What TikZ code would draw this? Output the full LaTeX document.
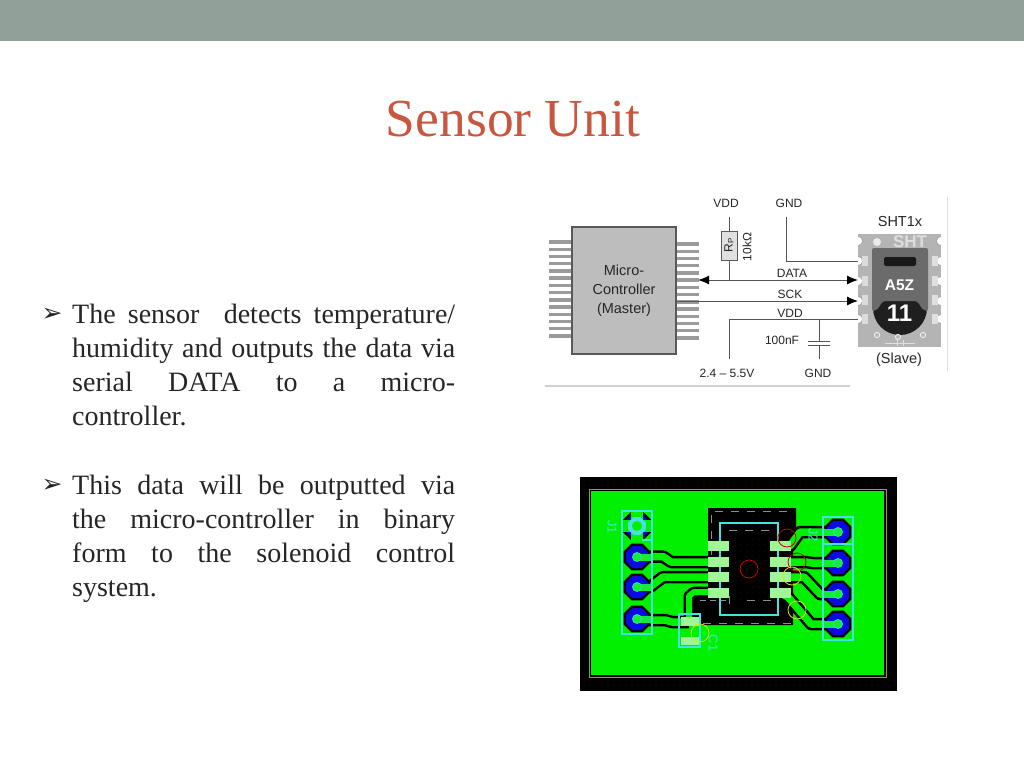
\documentclass[tikz,border=0pt]{standalone}
\usepackage{fontspec}
\setmainfont{Liberation Serif}
\newfontfamily\schem{Liberation Sans}
\newfontfamily\bulletfont{DejaVu Sans}
\usetikzlibrary{arrows.meta,shapes.geometric}
\definecolor{barc}{RGB}{145,160,152}
\definecolor{titlec}{RGB}{200,87,63}
\definecolor{textc}{RGB}{38,38,38}
\definecolor{mcuc}{RGB}{189,189,189}
\definecolor{pinc}{RGB}{155,155,155}
\definecolor{wirec}{RGB}{85,85,85}
\definecolor{pcbg}{RGB}{0,240,0}
\definecolor{padg}{RGB}{160,245,150}
\definecolor{cyn}{RGB}{70,225,225}
\definecolor{blu}{RGB}{10,10,225}
\definecolor{olv}{RGB}{170,150,40}
\newcommand{\jline}[1]{\makebox[383pt][s]{#1}\\}
\tikzset{
  x=1pt,y=-1pt,
  para/.style={anchor=north west,inner sep=0pt,text width=383pt,align=justify,font=\fontsize{28}{34}\selectfont,text=textc},
  bul/.style={anchor=center,inner sep=0pt,font=\bulletfont\bfseries\fontsize{25}{25}\selectfont,text=textc},
  lab/.style={inner sep=0pt,font=\schem\fontsize{12}{14}\selectfont,text=black!85},
  wire/.style={draw=wirec,line width=1pt},
  arrowwire/.style={wire,-{Latex[length=11pt,width=9pt,black]}},
  pin/.style={draw=pinc,line width=3.4pt},
  trackb/.style={draw=black,line width=12.5pt,line join=round},
  trackg/.style={draw=pcbg,line width=7.5pt,line join=round},
  tracknb/.style={draw=black,line width=11pt,line join=round},
  trackng/.style={draw=pcbg,line width=6pt,line join=round},
  smd/.style={fill=padg,draw=none},
  silk/.style={draw=cyn,line width=1.1pt},
  pcbtext/.style={inner sep=0pt,font=\schem\fontsize{13}{13}\selectfont,text=cyn},
  arcr/.style={draw=red!75!black,line width=.8pt},
  arcy/.style={draw=yellow!85!green,line width=.8pt},
  gdash/.style={draw=black!45,line width=1pt,dash pattern=on 8pt off 8pt},
  tpad/.style={regular polygon,regular polygon sides=8,minimum size=29pt,inner sep=0pt,fill=black},
  bpad/.style={regular polygon,regular polygon sides=8,minimum size=24pt,inner sep=0pt,fill=blu},
  hpad/.style={circle,minimum size=9pt,inner sep=0pt,fill=pcbg!75!cyn,draw=cyn!70!pcbg,line width=.8pt},
}
\begin{document}
\begin{tikzpicture}
\useasboundingbox (0,0) rectangle (1024,768);
\fill[white] (0,0) rectangle (1024,768);
\fill[barc] (0,0) rectangle (1024,41);
\node[inner sep=0pt,text=titlec,font=\fontsize{53.5}{60}\selectfont] (title) at (513,119) {Sensor Unit};

% bullets
\node[bul] (b1) at (52,315) {➢};
\node[para] (p1) at (72,304) {\jline{The sensor\ \ detects temperature/}\jline{humidity and outputs the data via}\jline{serial DATA to a micro-}controller.};
\node[bul] (b2) at (52,486) {➢};
\node[para] (p2) at (72,475) {\jline{This data will be outputted via}\jline{the micro-controller in binary}\jline{form to the solenoid control}system.};

% faint photo edges
\draw[black!12,line width=1pt] (947,197) -- (947,371);
\draw[black!18,line width=1.2pt] (545,386) -- (850,386);

% microcontroller
\foreach \i in {0,...,13} {
  \draw[pin] (549,{242+7.23*\i}) -- (573,{242+7.23*\i});
  \draw[pin] (675,{244+7.23*\i}) -- (699,{244+7.23*\i});
}
\node[draw=black!65,fill=mcuc,line width=1.1pt,minimum width=104pt,minimum height=127pt,inner sep=0pt,align=center,font=\schem\fontsize{14.5}{19}\selectfont,text=black!85] (mcu) at (624,290.5) {Micro-\\Controller\\(Master)};

% sensor
\node[fill=mcuc!95!black,minimum width=83pt,minimum height=113pt,inner sep=0pt] (sht) at (899.5,290.5) {};
\foreach \y in {241,261,281,301,319} {
  \fill[white] (858,\y) circle (4.5);
  \fill[white] (941,\y) circle (4.5);
  \draw[black!40,line width=.5pt] (858,{\y-4.5}) arc[start angle=-90,end angle=90,radius=4.5];
  \draw[black!40,line width=.5pt] (941,{\y-4.5}) arc[start angle=270,end angle=90,radius=4.5];
}
\foreach \y in {261,281,300,319} {
  \fill[black!12] (932,{\y-5}) rectangle (938,{\y+5});
  \fill[black!14] (862,{\y-5}) rectangle (868,{\y+5});
}
\fill[black!8] (877,242) circle (4);
\fill[black!88] (900,308) circle (27);
\fill[black!58,rounded corners=2pt] (872,248) -- (928,248) -- (928,311) -- (923,310) -- (917,301) -- (883,301) -- (877,310) -- (872,311) -- cycle;
\fill[black!90,rounded corners=2pt] (884,257) rectangle (916,266);
\node[inner sep=0pt,text=black!13,font=\schem\bfseries\fontsize{17}{17}\selectfont] (shtmark) at (910,242) {SHT};
\node[inner sep=0pt,text=white,font=\schem\bfseries\fontsize{15.5}{16}\selectfont] (a5z) at (899.5,285) {A5Z};
\node[inner sep=0pt,text=white,font=\schem\bfseries\fontsize{24}{24}\selectfont] (eleven) at (899.5,313) {11};
\foreach \x/\y in {877/335,898/337,923/335} \draw[black!8,line width=1pt] (\x,\y) circle (2.6);
\draw[black!12,line width=1pt] (885,343) -- (915,343) (897,340) -- (897,346) (903,340) -- (903,346);

% schematic labels
\node[lab] (lvdd) at (726,203) {VDD};
\node[lab] (lgnd) at (789,203) {GND};
\node[lab,font=\schem\fontsize{14.5}{15}\selectfont] (lsht) at (900,222) {SHT1x};
\node[lab] (ldata) at (792,273) {DATA};
\node[lab] (lsck) at (790,294) {SCK};
\node[lab] (lvdd2) at (790,313) {VDD};
\node[lab] (lcap) at (782,340) {100nF};
\node[lab] (lvolt) at (727,373) {2.4 – 5.5V};
\node[lab] (lgnd2) at (818,373) {GND};
\node[lab,font=\schem\fontsize{14.5}{15}\selectfont] (lslave) at (899,360) {(Slave)};
\node[lab,rotate=90] (lk) at (747,247) {10kΩ};

% resistor and connectors
\node[draw=black!65,fill=black!12,line width=1pt,minimum width=16pt,minimum height=29pt,inner sep=0pt] (rp) at (729,245.5) {};
\node[lab,rotate=90,font=\schem\fontsize{12}{12}\selectfont] (rplab) at (729,245.5) {R\raisebox{-1pt}{\fontsize{8}{8}\selectfont P}};
\coordinate (vddtop) at (729,217);
\coordinate (datab) at (729,280);
\coordinate (dataL) at (698,280);
\coordinate (dataR) at (858,280);
\coordinate (sckL) at (676,301);
\coordinate (sckR) at (858,301);
\coordinate (gndtop) at (786,217);
\coordinate (gndc) at (786,261);
\coordinate (gndR) at (858,261);
\coordinate (vddb) at (729,359);
\coordinate (vddc) at (729,319);
\coordinate (vddR) at (858,319);
\coordinate (capt) at (819,319);
\coordinate (cap1) at (819,341);
\coordinate (cap2) at (819,345);
\coordinate (capb) at (819,359);
\draw[wire] (vddtop) -- (rp);
\draw[wire] (rp) -- (datab);
\draw[arrowwire] (datab) -- (dataL);
\draw[arrowwire] (datab) -- (dataR);
\draw[arrowwire] (sckL) -- (sckR);
\draw[wire] (gndtop) -- (gndc) -- (gndR);
\draw[wire] (vddb) -- (vddc) -- (vddR);
\draw[wire] (capt) -- (cap1);
\draw[wire] (cap2) -- (capb);
\draw[wire] (808,341) -- (830,341);
\draw[wire] (808,345) -- (830,345);

% PCB
\fill[black] (580,477) rectangle (897,691);
\foreach \x in {584,590,...,896} \foreach \y in {480,486} \fill[black!72] (\x,\y) circle (.35);
\foreach \x in {584,590,...,896} \foreach \y in {680,686} \fill[black!72] (\x,\y) circle (.35);
\foreach \y in {492,498,...,676} {\fill[black!72] (584,\y) circle (.35);\fill[black!72] (892,\y) circle (.35);}
\draw[olv,line width=1pt] (589,489) rectangle (886,677);
\fill[pcbg] (591,491) rectangle (884,675);

% central clearance
\fill[black] (708,508) -- (796,508) -- (796,535) -- (793,550) -- (793,625) -- (693,625) -- (693,595) -- (708,595) -- cycle;
\foreach \x in {735,741,...,765} \foreach \y in {515,521,...,620} \fill[black!72] (\x,\y) circle (.35);

% traces
\foreach \pts in {
 {(637,557) -- (663,556.5) -- (671,562) -- (708,562)},
 {(637,587) -- (650,587) -- (663,577) -- (708,577)},
 {(637,620) -- (665,620) -- (672,622) -- (689,622)},
 {(838,532) -- (800,532) -- (790,546) -- (780,546)},
 {(838,563) -- (812,563) -- (806,562) -- (780,562)},
 {(838,594) -- (820,594) -- (804,577) -- (780,577)},
 {(838,624) -- (811,624) -- (788,597) -- (780,593)}}
 {\draw[trackb] \pts;}
\draw[tracknb] (689,622) -- (689,596) -- (694,592) -- (708,592);
\foreach \pts in {
 {(637,557) -- (663,556.5) -- (671,562) -- (708,562)},
 {(637,587) -- (650,587) -- (663,577) -- (708,577)},
 {(637,620) -- (665,620) -- (672,622) -- (689,622)},
 {(838,532) -- (800,532) -- (790,546) -- (780,546)},
 {(838,563) -- (812,563) -- (806,562) -- (780,562)},
 {(838,594) -- (820,594) -- (804,577) -- (780,577)},
 {(838,624) -- (811,624) -- (788,597) -- (780,593)}}
 {\draw[trackg] \pts;}
\draw[trackng] (689,622) -- (689,596) -- (694,592) -- (708,592);

% silk dashes
\draw[gdash] (715,511) -- (795,511);
\draw[gdash] (711,515) -- (711,555);
\draw[gdash] (729,530) -- (775,530);
\draw[gdash,dash pattern=on 6pt off 4pt] (700,600) -- (727,600);
\draw[gdash] (729,596) -- (729,608);
\draw[gdash] (747,600) -- (775,600);
\draw[gdash] (703,623) -- (793,623);
\draw[silk] (720,523) rectangle (778,615);
\draw[red!80!black,line width=.8pt] (749,569) circle (9);

% SMD pads
\foreach \y in {546,562,577,593} {
  \fill[smd] (708,{\y-5}) rectangle (729,{\y+5});
  \fill[smd] (770,{\y-5}) rectangle (791,{\y+5});
}
\fill[smd] (681,617) rectangle (699,626);
\fill[smd] (681,637) rectangle (699,645);
\draw[silk] (679,614) rectangle (700,647);
\draw[arcy] (700,633) circle (9);
\node[pcbtext,rotate=-90] (c1) at (713,643) {C1};

% J1
\node[tpad,minimum size=31pt] (j1a) at (637,526) {};
\node[bpad,minimum size=26pt] (j1ab) at (637,526) {};
\fill[pcbg] (631,510) rectangle (643,542);
\fill[pcbg] (621,520) rectangle (653,532);
\node[regular polygon,regular polygon sides=8,minimum size=19pt,inner sep=0pt,fill=cyn] (j1ac) at (637,526) {};
\node[circle,minimum size=10pt,inner sep=0pt,fill=pcbg] (j1ah) at (637,526) {};
\foreach \n/\y in {b/557,c/587,d/619} {
  \node[tpad] (j1\n) at (637,\y) {};
  \node[bpad] (j1\n b) at (637,\y) {};
  \fill[pcbg!75!cyn] (637,{\y-3.5}) rectangle (651,{\y+3.5});
  \node[hpad] (j1\n h) at (637,\y) {};
}
\draw[silk] (622,511) rectangle (652,634);
\draw[silk] (642,540) -- (652,540);
\node[pcbtext,rotate=-90] (j1t) at (612,527) {J1};

% J2
\foreach \n/\y in {a/532,b/563,c/594,d/624} {
  \node[tpad] (j2\n) at (838,\y) {};
  \node[bpad] (j2\n b) at (838,\y) {};
  \fill[pcbg!75!cyn] (824,{\y-3.5}) rectangle (838,{\y+3.5});
  \node[hpad] (j2\n h) at (838,\y) {};
}
\draw[silk] (823,517) rectangle (853,640);
\draw[silk] (823,544) -- (853,544);
\node[pcbtext,rotate=-90] (j2t) at (813,535) {J2};
\draw[arcr] (797,562) circle (9);
\draw[arcy] (792,576) circle (9);
\draw[arcr] (787,538) circle (9);
\draw[arcy] (797,610) circle (9);
\end{tikzpicture}
\end{document}
